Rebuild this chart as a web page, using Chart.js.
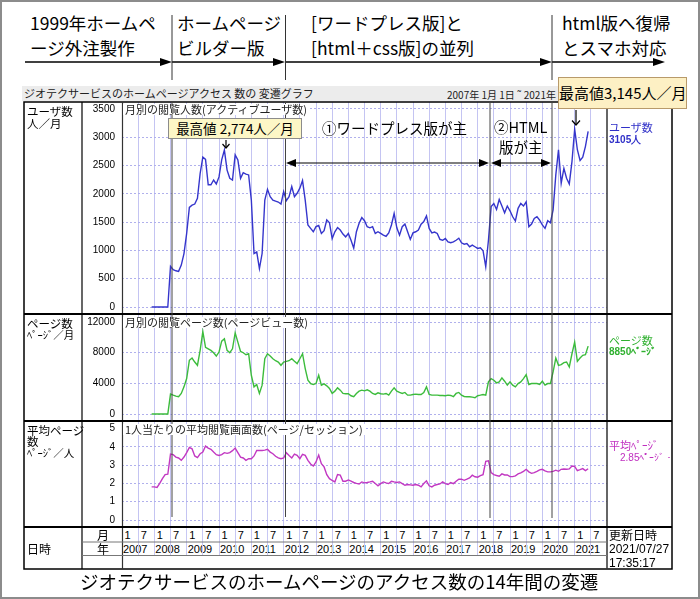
<!DOCTYPE html>
<html><head><meta charset="utf-8">
<script src="https://cdn.jsdelivr.net/npm/chart.js@4.4.1/dist/chart.umd.min.js"></script>
<style>
html,body{margin:0;padding:0;background:#fff;}
#page{position:relative;width:700px;height:599px;overflow:hidden;background:#fff;font-family:"Noto Sans CJK JP","Noto Sans",sans-serif;}
.t{position:absolute;white-space:nowrap;line-height:1;color:#000;}
.h{font-size:17.5px;}
canvas{position:absolute;}
.num{font-family:"Liberation Sans Narrow","Liberation Sans",sans-serif;}
</style></head><body><div id="page">
<div style="position:absolute;left:0;top:0;width:700px;height:599px;border:2px solid #8c8c8c;box-sizing:border-box;"></div>

<!-- header -->
<div class="t h" style="left:30px;top:14px;">1999年ホームペ</div>
<div class="t h" style="left:30px;top:39px;">ージ外注製作</div>
<div class="t h" style="left:177px;top:14px;">ホームページ</div>
<div class="t h" style="left:177px;top:39px;">ビルダー版</div>
<div class="t h" style="left:311px;top:14px;">[ワードプレス版]と</div>
<div class="t h" style="left:311px;top:39px;">[html＋css版]の並列</div>
<div class="t h" style="left:562px;top:14px;">html版へ復帰</div>
<div class="t h" style="left:562px;top:39px;">とスマホ対応</div>

<!-- title row -->
<div style="position:absolute;left:22px;top:86px;width:650px;height:15px;background:#ececec;"></div>
<div class="t" style="left:24px;top:88px;font-size:11px;color:#222;">ジオテクサービスのホームページアクセス 数の 変遷グラフ</div>
<div class="t" style="left:447px;top:90px;font-size:10px;color:#222;">2007年 1月 1日 ˜ 2021年 7月 27日</div>

<canvas id="c1" width="525" height="212" style="left:82px;top:102px;"></canvas>
<canvas id="c2" width="525" height="107" style="left:82px;top:314px;"></canvas>
<canvas id="c3" width="525" height="106" style="left:82px;top:421px;"></canvas>
<div id="dates"></div>

<svg width="700" height="599" style="position:absolute;left:0;top:0;" xmlns="http://www.w3.org/2000/svg">
  <g stroke="#000" fill="none">
    <rect x="24" y="102" width="648" height="467" stroke-width="1.5"/>
    <line x1="82" y1="102" x2="82" y2="569" stroke-width="1.2"/>
    <line x1="122.5" y1="102" x2="122.5" y2="569" stroke-width="1.2" stroke="#333"/>
    <line x1="607" y1="102" x2="607" y2="569" stroke-width="1.5" stroke="#333"/>
    <line x1="24" y1="314" x2="672" y2="314" stroke-width="2"/>
    <line x1="24" y1="421" x2="672" y2="421" stroke-width="2"/>
    <line x1="24" y1="527" x2="672" y2="527" stroke-width="2"/>
    <line x1="82" y1="542" x2="607" y2="542" stroke-width="1" stroke="#777"/>
    <line x1="82" y1="555.5" x2="607" y2="555.5" stroke-width="1" stroke="#777"/>
  </g>
  <!-- header arrows -->
  <g stroke="#000" stroke-width="1.3">
    <line x1="25" y1="62" x2="162" y2="62"/>
    <line x1="172" y1="62" x2="275" y2="62"/>
    <line x1="285" y1="62" x2="542" y2="62"/>
    <line x1="552" y1="62" x2="655" y2="62"/>
  </g>
  <g fill="#000">
    <polygon points="160,58 172,62 160,66"/>
    <polygon points="273,58 285,62 273,66"/>
    <polygon points="540,58 552,62 540,66"/>
    <polygon points="653,58 665,62 653,66"/>
  </g>
  <g stroke="#333" stroke-width="1">
    <line x1="172" y1="15" x2="172" y2="80"/>
    <line x1="285.5" y1="15" x2="285.5" y2="80"/>
    <line x1="552" y1="15" x2="552" y2="80"/>
  </g>
  <!-- markers in chart -->
  <g stroke="#444" stroke-width="1">
    <line x1="172" y1="102" x2="172" y2="517"/>
    <line x1="285.5" y1="102" x2="285.5" y2="517"/>
    <line x1="490" y1="102" x2="490" y2="518"/>
    <line x1="552" y1="102" x2="552" y2="518"/>
  </g>
  <g stroke="#000" stroke-width="1.2">
    <line x1="294" y1="163" x2="481" y2="163"/>
    <line x1="499" y1="163" x2="543" y2="163"/>
  </g>
  <g fill="#000">
    <polygon points="286,163 296,159 296,167"/>
    <polygon points="489,163 479,159 479,167"/>
    <polygon points="491,163 501,159 501,167"/>
    <polygon points="551,163 541,159 541,167"/>
  </g>
  <g stroke="#000" stroke-width="1.2" fill="none">
    <line x1="226" y1="140" x2="226" y2="148"/>
    <polyline points="222.5,144 226,148 229.5,144"/>
    <line x1="576" y1="110" x2="576" y2="125"/>
    <polyline points="572,120.5 576,125 580,120.5"/>
  </g>
</svg>

<!-- subtitles -->
<div class="t" style="left:123px;top:103.5px;font-size:11px;color:#222;background:#fff;padding:0 2px;">月別の閲覧人数(アクティブユーザ数)</div>
<div class="t" style="left:123px;top:317px;font-size:11px;color:#222;background:#fff;padding:0 2px;">月別の閲覧ページ数(ページビュー数)</div>
<div class="t" style="left:123px;top:424px;font-size:11px;color:#222;background:#fff;padding:0 2px;">1人当たりの平均閲覧画面数(ページ/セッション)</div>

<!-- annotations -->
<div class="t" style="left:168px;top:118px;width:134px;height:21px;box-sizing:border-box;background:#fdf7c6;border:1px solid #8c8c8c;font-size:13.5px;line-height:19px;text-align:center;">最高値 2,774人／月</div>
<div class="t" style="left:558px;top:77px;width:129px;height:32px;box-sizing:border-box;background:#fdf0c4;border:1px solid #b89a6a;font-size:15px;line-height:30px;text-align:center;">最高値3,145人／月</div>
<div class="t" style="left:322px;top:121px;font-size:14.5px;">①ワードプレス版が主</div>
<div class="t" style="left:494px;top:120px;font-size:14.5px;">②HTML</div>
<div class="t" style="left:499px;top:140px;font-size:14.5px;">版が主</div>

<!-- left labels -->
<div class="t" style="left:27px;top:106px;font-size:11.5px;">ユーザ数</div>
<div class="t" style="left:27px;top:118px;font-size:11.5px;">人／月</div>
<div class="t" style="left:27px;top:318px;font-size:11.5px;">ページ数</div>
<div class="t" style="left:27px;top:330px;font-size:10.5px;">ﾍﾟｰｼﾞ／月</div>
<div class="t" style="left:27px;top:425px;font-size:11.5px;">平均ページ</div>
<div class="t" style="left:27px;top:436px;font-size:11.5px;">数</div>
<div class="t" style="left:27px;top:448px;font-size:10.5px;">ﾍﾟｰｼﾞ／人</div>
<div class="t" style="left:27px;top:543px;font-size:12px;">日時</div>
<div class="t" style="left:97px;top:529px;font-size:12px;">月</div>
<div class="t" style="left:97px;top:543px;font-size:12px;">年</div>

<!-- right labels -->
<div class="t" style="left:609px;top:122px;font-size:11px;color:#3030c8;">ユーザ数</div>
<div class="t num" style="left:609px;top:135px;font-size:10px;color:#3030c8;font-weight:bold;">3105人</div>
<div class="t" style="left:609px;top:335px;font-size:11px;color:#2fb02f;">ページ数</div>
<div class="t num" style="left:609px;top:347px;font-size:10px;color:#2fb02f;font-weight:bold;">8850ﾍﾟｰｼﾞ</div>
<div class="t" style="left:609px;top:440px;font-size:11px;color:#c030c0;">平均ﾍﾟｰｼﾞ</div>
<div class="t num" style="left:620px;top:453px;font-size:10px;color:#c030c0;">2.85ﾍﾟｰｼﾞ・</div>
<div class="t" style="left:609px;top:529px;font-size:12px;">更新日時</div>
<div class="t num" style="left:609px;top:543px;font-size:12px;">2021/07/27</div>
<div class="t num" style="left:609px;top:557px;font-size:12px;">17:35:17</div>

<div class="t" style="left:80px;top:572px;font-size:18.5px;">ジオテクサービスのホームページのアクセス数の14年間の変遷</div>
</div>
<script>
// month categories 2007/1 .. 2022/1
const firstYear = 2007, lastYear = 2021;
const months = [];
for (let y = firstYear; y <= lastYear + 1; y++) {
  for (let mo = 1; mo <= 12; mo++) {
    if (y === lastYear + 1 && mo > 1) break;
    months.push(y + '/' + mo);
  }
}
const firstDataMonth = '2007/12';

// monthly users (2007/12 .. 2021/6)
const users = [
  0,
  0,0,0,0,0,0,720,660,640,630,740,945,
  1300,1760,1800,1820,1920,2360,2650,2610,2160,2160,2245,2175,
  2300,2600,2774,2420,2275,2245,2690,2600,2275,2375,2350,2335,
  1890,945,975,680,945,1890,2080,1950,1890,1870,1855,1820,
  2040,1880,1950,2130,1950,2010,2100,2235,1890,1450,1390,1330,
  1420,1440,1300,1350,1540,1490,1210,1330,1405,1360,1290,1240,
  1300,1180,1040,1330,1480,1580,1525,1420,1400,1420,1300,1330,
  1300,1270,1250,1310,1450,1655,1400,1270,1420,1465,1330,1195,
  1310,1330,1360,1465,1510,1610,1390,1310,1325,1300,1195,1180,
  1210,1150,1135,1150,1180,1215,1135,1110,1120,1065,1095,1065,
  1035,1045,995,710,1180,1775,1830,1725,1900,1785,1665,1785,
  1700,1595,1520,1745,1830,1785,1860,1420,1465,1565,1595,1535,
  1450,1390,1525,1490,1715,2335,2780,2185,2450,2275,2175,2570,
  3145,2780,2590,2650,2840,3105
];
// monthly page views
const pageViews = [
  0,
  0,0,0,0,0,0,2600,2460,2330,2250,2680,3540,
  4620,7000,7300,6780,6350,8300,10750,8700,8500,8300,7990,7560,
  8080,9500,9800,8300,7990,8500,10580,9370,8160,7990,7730,7860,
  5050,3540,3850,2680,3760,7210,7860,7560,7210,6950,6780,6350,
  6780,6870,6950,7210,6870,6570,7210,7860,5920,4400,3970,3850,
  3970,5050,3760,3930,3670,3330,2680,2980,3410,3110,2680,2640,
  2640,2380,2250,2680,2980,3110,3020,3150,2980,2680,2550,2760,
  2640,2590,2680,2460,2980,3410,2980,2810,2680,2810,2460,2460,
  2550,2590,2550,2550,2810,3540,2550,2460,2460,2460,2420,2420,
  2380,2460,2420,2250,2680,2810,2460,2290,2250,2250,2200,2120,
  2380,2460,2550,2460,4190,4620,4400,4060,4190,4710,4280,3760,
  4190,3760,3540,3970,4190,4620,5140,3850,3970,3970,3970,3850,
  4280,3760,3970,3970,5490,7300,6350,6440,6700,6780,6130,7860,
  9370,6870,7300,7650,7730,8850
];
// pages per session
const avgPages = [
  1.81,
  1.81,1.78,2.0,2.26,2.48,2.5,3.6,3.57,3.44,3.39,3.26,3.44,
  3.68,3.97,3.89,3.5,3.41,3.62,3.71,4.04,3.93,3.86,3.71,3.57,
  3.53,3.57,3.68,3.64,3.68,3.79,3.93,3.68,3.44,3.39,3.26,3.35,
  3.35,3.5,3.8,3.8,3.8,3.82,3.86,3.71,3.62,3.48,3.39,3.35,
  3.39,3.68,3.53,3.39,3.6,3.53,3.35,3.59,3.53,3.26,3.06,2.95,
  3.17,3.55,3.08,2.9,2.48,2.26,2.16,2.08,2.48,2.45,2.12,2.12,
  2.19,2.12,2.05,2.0,1.97,2.08,2.03,2.05,2.08,2.12,1.99,1.87,
  1.99,2.08,2.03,1.99,2.12,2.08,2.05,2.08,1.99,1.9,1.94,1.92,
  1.9,1.94,1.9,1.81,1.99,2.14,1.87,1.81,1.9,1.94,1.97,2.08,
  1.99,1.94,2.05,1.99,2.12,2.23,2.23,2.17,2.23,2.3,2.45,2.36,
  2.34,2.43,2.48,3.21,3.24,2.59,2.48,2.43,2.39,2.52,2.46,2.46,
  2.37,2.37,2.41,2.52,2.57,2.66,2.77,2.63,2.55,2.59,2.66,2.74,
  2.77,2.68,2.63,2.63,2.66,2.72,2.66,2.77,2.79,2.77,2.79,2.95,
  2.93,2.7,2.75,2.81,2.7,2.8
];
const usersTicks = [0, 3500, 500];
const pvTicks = [0, 12000, 4000];
const avgTicks = [0, 5, 1];

function place(arr) {
  const out = new Array(months.length).fill(null);
  const s = months.indexOf(firstDataMonth);
  arr.forEach((v, i) => { out[s + i] = v; });
  return out;
}

function makeChart(id, values, color, tk, padLow, padHigh) {
  const span = tk[1] - tk[0];
  const tickVals = [];
  for (let v = tk[0]; v <= tk[1] + 1e-9; v += tk[2]) tickVals.push({ value: v });
  return new Chart(document.getElementById(id), {
    type: 'line',
    data: { labels: months, datasets: [{ data: place(values), borderColor: color, borderWidth: 1.4,
      pointRadius: 0, tension: 0, fill: false, spanGaps: false }] },
    options: {
      responsive: false, animation: false, devicePixelRatio: 1,
      layout: { padding: 0 },
      plugins: { legend: { display: false }, tooltip: { enabled: false } },
      scales: {
        x: {
          grid: { color: c => (c.index % 6 === 0 ? '#c4c4f2' : 'rgba(0,0,0,0)'), drawTicks: false, lineWidth: 1 },
          border: { display: false },
          ticks: { display: false, autoSkip: false },
          afterFit: s => { s.height = 0; }
        },
        y: {
          min: tk[0] - span * padLow, max: tk[1] + span * padHigh,
          grid: { color: '#b0b0ec', drawTicks: false },
          border: { display: false, dash: [2, 2] },
          ticks: { padding: 7, color: '#000', font: { size: 10, family: 'Liberation Sans' },
            callback: v => String(v) },
          afterBuildTicks: s => { s.ticks = tickVals.map(t => ({ value: t.value })); },
          afterFit: s => { s.width = 40; s.paddingTop = 0; s.paddingBottom = 0; }
        }
      }
    }
  });
}

const c1 = makeChart('c1', users, '#3535cc', usersTicks, 7 / 198, 7 / 198);
const c2 = makeChart('c2', pageViews, '#3cbc3c', pvTicks, 7 / 92, 8 / 92);
const c3 = makeChart('c3', avgPages, '#c238c2', avgTicks, 7 / 91.5, 7.5 / 91.5);

// date rows from the x scale
const sx = c3.scales.x;
const dates = document.getElementById('dates');
let html = '';
for (let i = 0; i < months.length - 1; i += 6) {
  const px = 82 + sx.getPixelForValue(i);
  const [yy, mm] = months[i].split('/');
  html += '<div style="position:absolute;left:' + (px - 0.5) + 'px;top:527px;width:1px;height:28px;background:#c8c8f4;"></div>';
  html += '<div class="t num" style="left:' + (px + 2.5) + 'px;top:530px;font-size:11px;">' + mm + '</div>';
  if (mm === '1') {
    html += '<div class="t num" style="left:' + (px + 1) + 'px;top:544px;font-size:11px;">' + yy + '</div>';
  }
}
dates.innerHTML = html;
</script>
</body></html>
